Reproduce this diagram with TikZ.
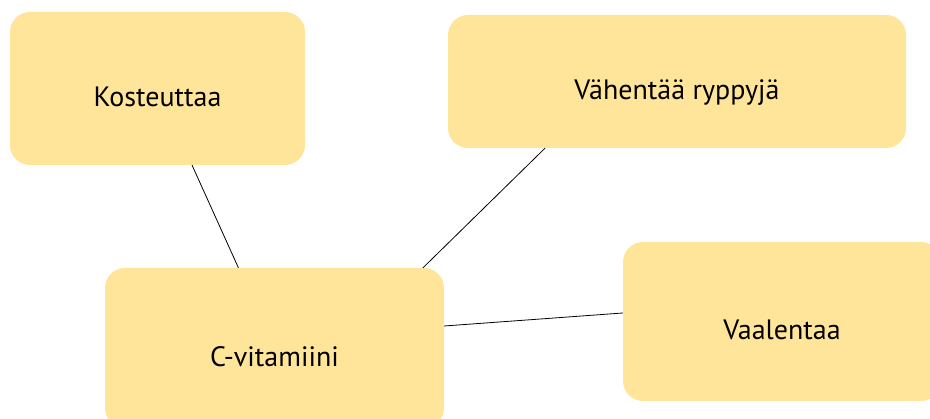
\documentclass[tikz,border=0pt]{standalone}
\usepackage{fontspec}
\setmainfont{PT Sans}
\definecolor{boxyellow}{HTML}{FFE599}
\newcommand{\boxtext}[1]{\raisebox{-18.5pt}[0pt][0pt]{#1}}
\begin{document}
\begin{tikzpicture}[x=1pt,y=-1pt,
	idea/.style={rectangle,rounded corners=20pt,fill=boxyellow,inner sep=0pt,
		font=\fontsize{28}{33}\selectfont},
	link/.style={line width=0.8pt,black}]
	\clip (0,0) rectangle (930,419); % Keeps the page at the reference size
	
	\node[idea,minimum width=295pt,minimum height=153pt] (Kost) at (157.5,88.5) {\boxtext{Kosteuttaa}};
	\node[idea,minimum width=458pt,minimum height=133pt] (Vah) at (677,81.5) {\boxtext{Vähentää ryppyjä}};
	\node[idea,minimum width=318pt,minimum height=159pt] (Vaal) at (782,321.5) {\boxtext{Vaalentaa}};
	\node[idea,minimum width=339pt,minimum height=160pt] (Vit) at (274.5,348) {\boxtext{C-vitamiini}};
	
	\coordinate (VahEnd) at ([xshift=-132pt]Vah.south);
	\coordinate (VitTop) at ([xshift=148.5pt]Vit.north);
	\coordinate (VaalEnd) at ([yshift=8.5pt]Vaal.west);
	\coordinate (VitSide) at ([yshift=22pt]Vit.east);
	
	\draw [link] (Kost) -- (Vit);
	\draw [link] (VahEnd) -- (VitTop);
	\draw [link] (VitSide) -- (VaalEnd);
\end{tikzpicture}
\end{document}
